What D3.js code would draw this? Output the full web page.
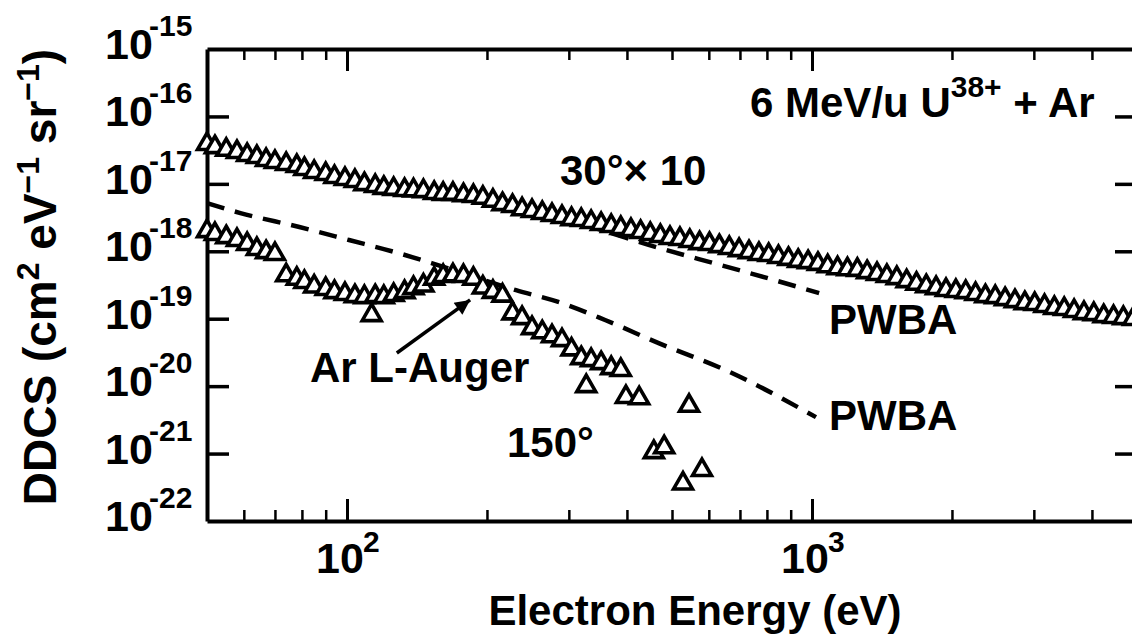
<!DOCTYPE html>
<html>
<head>
<meta charset="utf-8">
<script src="https://cdn.jsdelivr.net/npm/d3@7"></script>
<style>
  html, body { margin: 0; padding: 0; background: #fff; }
  svg { display: block; }
  text { font-family: 'Liberation Sans', Arial, Helvetica, sans-serif; font-weight: bold; fill: #000; }
</style>
</head>
<body>
<svg id="chart" width="1132" height="640"></svg>
<script>
// 30 deg spectrum (already multiplied by 10)
var energy30 = [50, 52, 55, 58, 61, 64, 67, 70, 74, 78, 81, 85, 90, 94, 99, 104, 109, 115, 120, 126,
  133, 139, 146, 154, 161, 169, 178, 187, 196, 206, 216, 227, 238, 250, 263, 276, 290, 304, 319, 335,
  352, 370, 388, 408, 428, 449, 472, 495, 520, 546, 573, 602, 632, 664, 697, 732, 769, 807, 847, 890,
  934, 981, 1030, 1081, 1135, 1192, 1252, 1314, 1380, 1449, 1522, 1598, 1678, 1761, 1849, 1942, 2039, 2141, 2248, 2360,
  2478, 2602, 2732, 2869, 3013, 3163, 3321, 3487, 3662, 3845, 4037, 4239, 4451, 4673, 4907]
var ddcs30 = [3.9e-17, 3.5e-17, 3.2e-17, 2.96e-17, 2.68e-17, 2.5e-17, 2.26e-17, 2.11e-17, 1.97e-17, 1.84e-17,
  1.66e-17, 1.5e-17, 1.4e-17, 1.26e-17, 1.18e-17, 1.1e-17, 9.9e-18, 9.3e-18, 8.7e-18, 8.4e-18,
  8.1e-18, 8.0e-18, 7.8e-18, 7.3e-18, 7.1e-18, 7.1e-18, 6.8e-18, 6.6e-18, 6.2e-18, 5.6e-18,
  5.0e-18, 4.7e-18, 4.2e-18, 3.95e-18, 3.7e-18, 3.44e-18, 3.22e-18, 3.0e-18, 2.9e-18, 2.71e-18,
  2.53e-18, 2.37e-18, 2.21e-18, 2.06e-18, 1.93e-18, 1.8e-18, 1.68e-18, 1.57e-18, 1.52e-18, 1.42e-18,
  1.32e-18, 1.28e-18, 1.19e-18, 1.12e-18, 1.04e-18, 9.7e-19, 9.1e-19, 8.8e-19, 8.2e-19, 7.7e-19,
  7.2e-19, 6.9e-19, 6.5e-19, 6.0e-19, 5.6e-19, 5.4e-19, 5.3e-19, 4.9e-19, 4.6e-19, 4.3e-19,
  4.0e-19, 3.6e-19, 3.3e-19, 3.04e-19, 2.84e-19, 2.66e-19, 2.57e-19, 2.48e-19, 2.32e-19, 2.16e-19,
  2.09e-19, 1.95e-19, 1.82e-19, 1.7e-19, 1.65e-19, 1.54e-19, 1.44e-19, 1.39e-19, 1.3e-19, 1.21e-19,
  1.17e-19, 1.09e-19, 1.06e-19, 1.02e-19, 9.9e-20]

// 150 deg spectrum
var energy150 = [50, 52, 55, 58, 61, 64, 67, 70, 74, 78, 81, 85, 90, 94, 99, 104, 109, 113, 115, 120,
  126, 133, 139, 146, 154, 161, 169, 178, 187, 196, 206, 216, 227, 238, 250, 263, 276, 290, 304, 319,
  327, 335, 352, 370, 388, 398, 425, 457, 481, 528, 544, 580]
var ddcs150 = [1.99e-18, 1.8e-18, 1.62e-18, 1.47e-18, 1.28e-18, 1.08e-18, 9.7e-19, 9.1e-19, 4.4e-19, 3.9e-19,
  3.5e-19, 3.0e-19, 2.75e-19, 2.48e-19, 2.32e-19, 2.16e-19, 2.09e-19, 1.13e-19, 2.16e-19, 2.09e-19,
  2.24e-19, 2.48e-19, 2.84e-19, 3.1e-19, 3.9e-19, 4.3e-19, 4.4e-19, 4.3e-19, 3.9e-19, 2.9e-19,
  2.5e-19, 2.2e-19, 1.2e-19, 1.02e-19, 7.25e-20, 6.3e-20, 5.5e-20, 4.8e-20, 3.5e-20, 2.6e-20,
  1.0e-20, 2.43e-20, 2.19e-20, 1.85e-20, 1.73e-20, 6.9e-21, 6.6e-21, 1.05e-21, 1.24e-21, 3.6e-22,
  5.1e-21, 5.7e-22]

// PWBA curves
var energyPwba30 = [212, 319, 469, 571, 697, 1036]
var ddcsPwba30 = [4.85e-18, 2.53e-18, 1.12e-18, 7.66e-19, 5.26e-19, 2.4e-19]
var energyPwba150 = [50, 59, 79, 101, 129, 152, 231, 290, 360, 468, 652, 1020]
var ddcsPwba150 = [5.19e-18, 3.69e-18, 2.29e-18, 1.47e-18, 9.4e-19, 6.68e-19, 2.65e-19, 1.7e-19, 9.5e-20, 4.35e-20, 1.73e-20, 3.47e-21]

// axes
var xMajorTicks = [100, 1000]
var xMinorTicks = [60, 70, 80, 90, 200, 300, 400, 500, 600, 700, 800, 900, 2000, 3000, 4000]
var xTickExponents = [2, 3]
var yDecades = [-22, -21, -20, -19, -18, -17, -16, -15]

// Ar L-Auger arrow: tail and tip (eV, DDCS)
var arrowFrom = [128, 3.1e-20]
var arrowTo = [184, 1.9e-19]

var svg = d3.select('#chart')
var x = d3.scaleLog().domain([50, 5000]).range([207, 1137])
var y = d3.scaleLog().domain([1e-22, 1e-15]).range([521, 49])

function zip(xs, ys) {
  return xs.map(function(e, i) { return [e, ys[i]] })
}

function drawAxis(axis, transform, values, size, width, withDomain) {
  var g = svg.append('g')
    .attr('transform', transform)
    .call(axis.tickValues(values).tickSizeInner(-size).tickSizeOuter(0).tickFormat(''))
  g.selectAll('.tick line').attr('stroke', '#000').attr('stroke-width', width)
  g.selectAll('.tick text').remove()
  if (withDomain) {
    g.select('.domain').attr('stroke', '#000').attr('stroke-width', 4)
  } else {
    g.select('.domain').remove()
  }
}

var yMajor = yDecades.slice(1, -1).map(function(e) { return Math.pow(10, e) })

drawAxis(d3.axisBottom(x), 'translate(0,521)', xMajorTicks, 22, 3, true)
drawAxis(d3.axisBottom(x), 'translate(0,521)', xMinorTicks, 11, 2.5, false)
drawAxis(d3.axisTop(x), 'translate(0,49)', xMajorTicks, 22, 3, true)
drawAxis(d3.axisTop(x), 'translate(0,49)', xMinorTicks, 11, 2.5, false)
drawAxis(d3.axisLeft(y), 'translate(207,0)', yMajor, 22, 3.5, true)
drawAxis(d3.axisRight(y), 'translate(1137,0)', yMajor, 22, 3.5, true)

// tick labels: 10 with superscript exponent
yDecades.forEach(function(e) {
  var py = y(Math.pow(10, e))
  svg.append('text').attr('x', 105).attr('y', py + 10)
    .attr('font-size', 43).text('10')
  svg.append('text').attr('x', 149).attr('y', py - 13)
    .attr('font-size', 30).text('-' + Math.abs(e))
})

xMajorTicks.forEach(function(v, i) {
  var px = x(v)
  svg.append('text').attr('x', px - 31).attr('y', 573)
    .attr('font-size', 43).text('10')
  svg.append('text').attr('x', px + 16).attr('y', 552)
    .attr('font-size', 30).text(xTickExponents[i])
})

// axis titles
svg.append('text')
  .attr('x', 695).attr('y', 625)
  .attr('text-anchor', 'middle')
  .attr('font-size', 42)
  .text('Electron Energy (eV)')

var yTitle = svg.append('text')
  .attr('transform', 'translate(56,277) rotate(-90)')
  .attr('text-anchor', 'middle')
  .attr('font-size', 46)
yTitle.append('tspan').text('DDCS (cm')
yTitle.append('tspan').attr('dy', -17).attr('font-size', 32).text('2')
yTitle.append('tspan').attr('dy', 17).text(' eV')
yTitle.append('tspan').attr('dy', -17).attr('font-size', 32).text('\u22121')
yTitle.append('tspan').attr('dy', 17).text(' sr')
yTitle.append('tspan').attr('dy', -17).attr('font-size', 32).text('\u22121')
yTitle.append('tspan').attr('dy', 17).text(')')

// PWBA dashed curves
var line = d3.line()
  .x(function(d) { return x(d[0]) })
  .y(function(d) { return y(d[1]) })
  .curve(d3.curveMonotoneX)

;[zip(energyPwba30, ddcsPwba30), zip(energyPwba150, ddcsPwba150)].forEach(function(data) {
  svg.append('path')
    .datum(data)
    .attr('d', line)
    .attr('fill', 'none')
    .attr('stroke', '#000')
    .attr('stroke-width', 4.5)
    .attr('stroke-dasharray', '18,11')
})

// open triangle data points
var triangle = d3.symbol().type(d3.symbolTriangle).size(155)

function drawPoints(data) {
  svg.append('g')
    .selectAll('path')
    .data(data)
    .enter()
    .append('path')
    .attr('d', triangle)
    .attr('transform', function(d) {
      return 'translate(' + x(d[0]) + ',' + y(d[1]) + ')'
    })
    .attr('fill', '#fff')
    .attr('stroke', '#000')
    .attr('stroke-width', 3.6)
}

drawPoints(zip(energy30, ddcs30))
drawPoints(zip(energy150, ddcs150))

// annotations
var defs = svg.append('defs')
defs.append('marker')
  .attr('id', 'arrowhead')
  .attr('viewBox', '0 0 10 10')
  .attr('refX', 10).attr('refY', 5)
  .attr('markerUnits', 'userSpaceOnUse')
  .attr('markerWidth', 20).attr('markerHeight', 15)
  .attr('orient', 'auto')
  .append('path')
  .attr('d', 'M0,0L10,5L0,10Z')
  .attr('fill', '#000')

svg.append('line')
  .attr('x1', x(arrowFrom[0])).attr('y1', y(arrowFrom[1]))
  .attr('x2', x(arrowTo[0])).attr('y2', y(arrowTo[1]))
  .attr('stroke', '#000')
  .attr('stroke-width', 3.5)
  .attr('marker-end', 'url(#arrowhead)')

var title = svg.append('text').attr('x', 750).attr('y', 117).attr('font-size', 42)
title.append('tspan').text('6 MeV/u U')
title.append('tspan').attr('dy', -20).attr('font-size', 30).text('38+')
title.append('tspan').attr('dy', 20).text(' + Ar')

svg.append('text').attr('x', 560).attr('y', 185).attr('font-size', 42).text('30\u00b0\u00d7 10')
svg.append('text').attr('x', 829).attr('y', 334).attr('font-size', 42).text('PWBA')
svg.append('text').attr('x', 829).attr('y', 430).attr('font-size', 42).text('PWBA')
svg.append('text').attr('x', 310).attr('y', 382).attr('font-size', 42).text('Ar L-Auger')
svg.append('text').attr('x', 507).attr('y', 457).attr('font-size', 42).text('150\u00b0')
</script>
</body>
</html>
